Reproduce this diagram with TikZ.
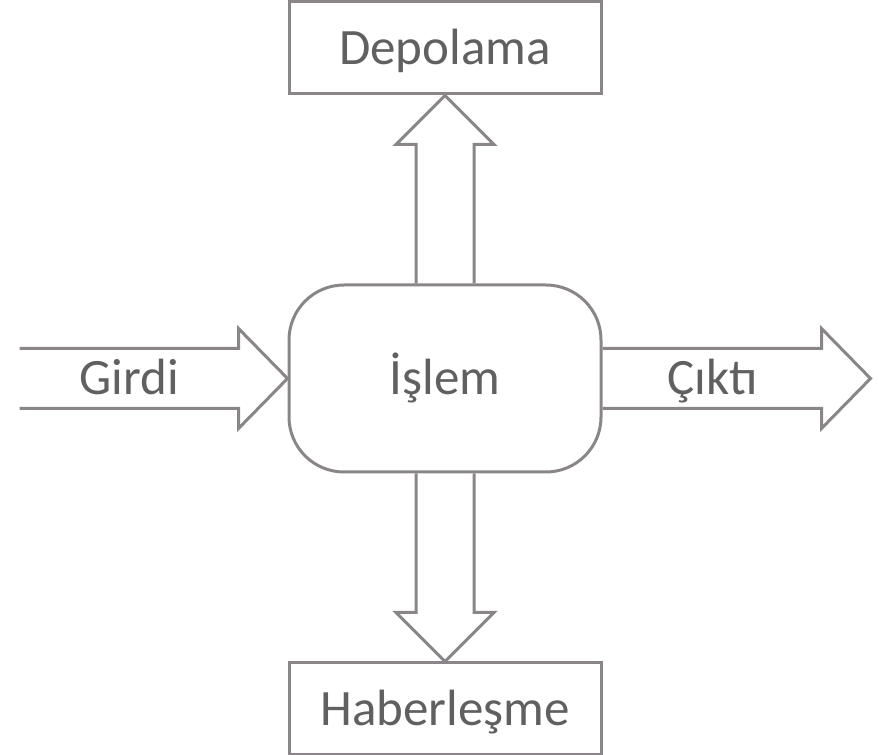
\documentclass[tikz,border=0pt]{standalone}
\usepackage{fontspec}
\setmainfont{Carlito}
\usetikzlibrary{positioning}

\newlength{\du}
\setlength{\du}{0.5pt}
\definecolor{dialinecolor}{RGB}{138,133,137}
\definecolor{diatextcolor}{RGB}{96,96,96}

\tikzset{
  procbox/.style={draw=dialinecolor, line width=3\du, minimum width=312\du, minimum height=92\du, inner sep=0pt, text=diatextcolor, text height=33\du, text depth=0pt},
  roundbox/.style={procbox, rounded corners=55\du, minimum height=187\du},
  blockarrow/.style={draw=dialinecolor, line width=3\du, line join=miter},
  lbl/.style={text=diatextcolor, inner sep=0pt, text height=33\du, text depth=0pt}
}

\begin{document}
\begin{tikzpicture}[font=\fontsize{25.5}{30}\selectfont]
\useasboundingbox (0,0) rectangle (879\du,755\du);

\node[roundbox] (islem) at (445\du,376.5\du) {İşlem};
\node[procbox, above=188\du of islem] (depo) {Depolama};
\node[procbox, below=188\du of islem] (haber) {Haberleşme};

\coordinate (in) at ([xshift=-268\du]islem.west);
\coordinate (out) at ([xshift=268\du]islem.east);

% girdi
\draw[blockarrow] ([yshift=30\du]in) -- ([xshift=-49\du,yshift=30\du]islem.west) -- ([xshift=-49\du,yshift=50\du]islem.west) -- (islem.west) -- ([xshift=-49\du,yshift=-50\du]islem.west) -- ([xshift=-49\du,yshift=-30\du]islem.west) -- ([yshift=-30\du]in);
\node[lbl] (girdi) at ([xshift=-158\du]islem.west) {Girdi};

% cikti
\draw[blockarrow] ([yshift=30\du]islem.east) -- ([xshift=-49\du,yshift=30\du]out) -- ([xshift=-49\du,yshift=50\du]out) -- (out) -- ([xshift=-49\du,yshift=-50\du]out) -- ([xshift=-49\du,yshift=-30\du]out) -- ([yshift=-30\du]islem.east);
\node[lbl] (cikti) at ([xshift=110\du]islem.east) {Çıktı};

% depolama
\draw[blockarrow] ([xshift=-29\du]islem.north) -- ([xshift=-29\du,yshift=-49\du]depo.south) -- ([xshift=-49\du,yshift=-49\du]depo.south) -- (depo.south) -- ([xshift=49\du,yshift=-49\du]depo.south) -- ([xshift=29\du,yshift=-49\du]depo.south) -- ([xshift=29\du]islem.north);

% haberlesme
\draw[blockarrow] ([xshift=-29\du]islem.south) -- ([xshift=-29\du,yshift=49\du]haber.north) -- ([xshift=-49\du,yshift=49\du]haber.north) -- (haber.north) -- ([xshift=49\du,yshift=49\du]haber.north) -- ([xshift=29\du,yshift=49\du]haber.north) -- ([xshift=29\du]islem.south);
\end{tikzpicture}
\end{document}
